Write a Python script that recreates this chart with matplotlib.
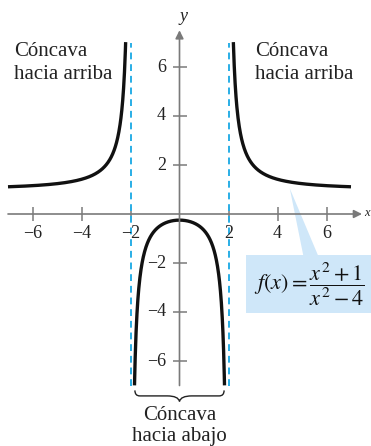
import matplotlib
matplotlib.use("Agg")
import matplotlib.pyplot as plt
import numpy as np
from matplotlib.patches import Rectangle, Polygon, PathPatch
from matplotlib.path import Path

# data
x_ticks = [-6, -4, -2, 2, 4, 6]
y_ticks = [-6, -4, -2, 2, 4, 6]
asymptotes = [-2, 2]
left_branch = (-7.0, -2.198)
mid_branch = (-1.837, 1.837)
right_branch = (2.198, 7.0)
label_up = "Cóncava\nhacia arriba"
label_down = "Cóncava\nhacia abajo"
formula = r"$f(x) = \dfrac{x^2 + 1}{x^2 - 4}$"

AXC = "#7a7a7a"
BLUE = "#29aee6"
BOX = "#cfe7f9"

plt.rcParams["font.family"] = ["Liberation Serif", "DejaVu Serif"]
plt.rcParams["mathtext.fontset"] = "stix"


def f(x):
    return (x ** 2 + 1) / (x ** 2 - 4)


fig = plt.figure(figsize=(3.71, 4.46), dpi=100)
ax = fig.add_axes([0, 0, 1, 1])
s = 24.5
ax.set_xlim(-179.5 / s, (371 - 179.5) / s)
ax.set_ylim(-(446 - 214) / s, 214 / s)
ax.axis("off")

# axes with arrows
ax.annotate("", xy=(7.45, 0), xytext=(-7.0, 0),
            arrowprops=dict(arrowstyle="-|>", color=AXC, lw=1.2, mutation_scale=12, shrinkA=0, shrinkB=0))
ax.annotate("", xy=(0, 7.5), xytext=(0, -7.0),
            arrowprops=dict(arrowstyle="-|>", color=AXC, lw=1.2, mutation_scale=12, shrinkA=0, shrinkB=0))
ax.plot(x_ticks, [0] * len(x_ticks), ls="none", marker="|", ms=10, mew=1.1, color=AXC)
ax.plot([0] * len(y_ticks), y_ticks, ls="none", marker="_", ms=10, mew=1.1, color=AXC)
for t in x_ticks:
    ax.text(t, -0.45, "\u2212%d" % -t if t < 0 else "%d" % t, ha="center", va="top", fontsize=13, color="#222222")
for t in y_ticks:
    ax.text(-0.55, t, "\u2212%d" % -t if t < 0 else "%d" % t, ha="right", va="center", fontsize=13, color="#222222")
ax.text(0.15, 7.7, "y", style="italic", fontsize=13, ha="center", va="bottom", color="#222222")
ax.text(7.52, 0.05, "x", style="italic", fontsize=9, ha="left", va="center", color="#222222")

# asymptotes
for a in asymptotes:
    ax.plot([a, a], [-7.0, 7.0], color=BLUE, lw=1.4, ls=(0, (3.5, 2.5)))

# curve
for lo, hi in [left_branch, mid_branch, right_branch]:
    xs = np.linspace(lo, hi, 400)
    ax.plot(xs, f(xs), color="#111111", lw=2.4, solid_capstyle="butt")

# callout
wedge = Polygon([(4.5, 1.05), (5.05, -1.68), (5.65, -1.68)], closed=True, color=BOX, lw=0)
ax.add_patch(wedge)
ax.add_patch(Rectangle((2.73, -4.05), 5.2, 2.37, color=BOX, lw=0))
ax.text(5.3, -2.87, formula, ha="center", va="center", fontsize=16, color="#111111")

# labels
ax.text(-6.75, 7.0, label_up, ha="left", va="top", fontsize=15, color="#222222", linespacing=1.25)
ax.text(3.1, 7.0, label_up, ha="left", va="top", fontsize=15, color="#222222", linespacing=1.25)

# brace under the middle branch
x0, x1 = -1.82, 1.82
yb = -7.2
h = 0.45
verts = [(x0, yb), (x0, yb - h / 2), (x0 + 0.2, yb - h / 2), (x0 + 0.5, yb - h / 2),
         (-0.5, yb - h / 2), (-0.05, yb - h / 2), (0, yb - h),
         (0.05, yb - h / 2), (0.5, yb - h / 2), (x1 - 0.5, yb - h / 2),
         (x1 - 0.2, yb - h / 2), (x1, yb - h / 2), (x1, yb)]
codes = [Path.MOVETO, Path.CURVE3, Path.CURVE3, Path.LINETO,
         Path.LINETO, Path.CURVE3, Path.CURVE3,
         Path.CURVE3, Path.CURVE3, Path.LINETO,
         Path.LINETO, Path.CURVE3, Path.CURVE3]
ax.add_patch(PathPatch(Path(verts, codes), fc="none", ec="#222222", lw=1.0))
ax.text(0, -7.85, label_down, ha="center", va="top", fontsize=15, color="#222222", linespacing=1.1)

fig.savefig("out.png", dpi=100)
